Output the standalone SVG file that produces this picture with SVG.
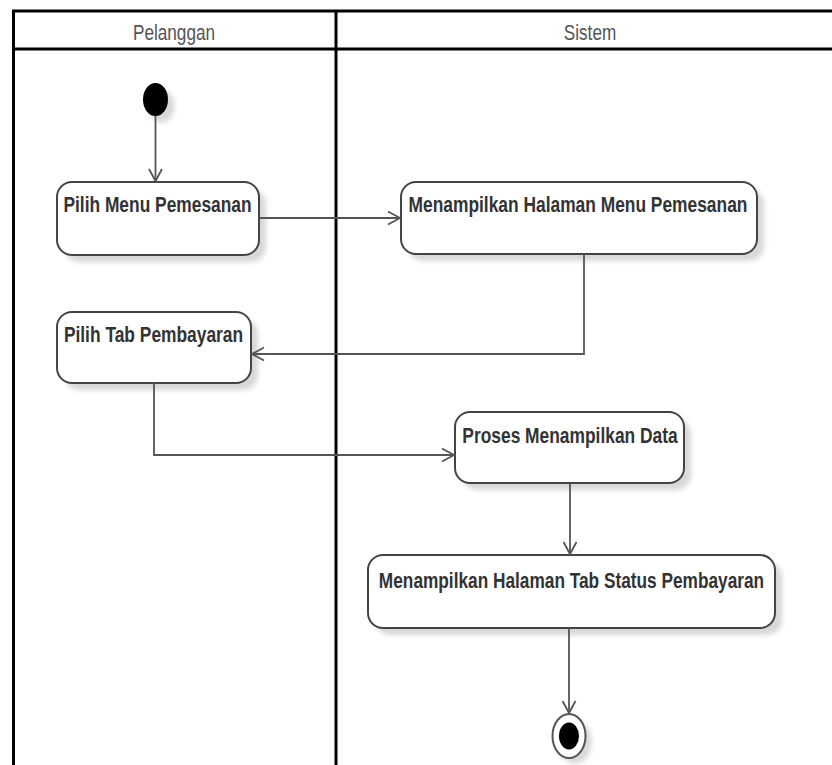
<svg xmlns="http://www.w3.org/2000/svg" width="832" height="765" viewBox="0 0 832 765">
  <style>
    .lane { stroke: #000; stroke-width: 3; fill: none; }
    .lane-title { font-family: "Liberation Sans", Arial, sans-serif; font-size: 22px; fill: #555; text-anchor: middle; }
    .act { fill: #fff; stroke: #444; stroke-width: 2; }
    .shadow { fill: #d8d8d8; filter: url(#soft); }
    .label { font-family: "Liberation Sans", Arial, sans-serif; font-weight: bold; font-size: 22px; fill: #333; text-anchor: middle; }
    .flow { fill: none; stroke: #555; stroke-width: 1.8; marker-end: url(#open); }
  </style>
  <defs>
    <filter id="soft" x="-20%" y="-20%" width="140%" height="140%">
      <feGaussianBlur stdDeviation="2.5"/>
    </filter>
    <marker id="open" markerUnits="userSpaceOnUse" markerWidth="16" markerHeight="16" viewBox="-14 -8 16 16" refX="0" refY="0" orient="auto">
      <path d="M-12,-6.5 L0,0 L-12,6.5" fill="none" stroke="#555" stroke-width="1.8"/>
    </marker>
  </defs>

  <rect width="832" height="765" fill="#fff"/>

  <!-- swimlanes; titles use a narrowed sans -->
  <g id="lanes">
    <line class="lane" x1="12" y1="11" x2="832" y2="11"/>
    <line class="lane" x1="12" y1="49" x2="832" y2="49"/>
    <line class="lane" x1="13.5" y1="10" x2="13.5" y2="765"/>
    <line class="lane" x1="336" y1="10" x2="336" y2="765"/>
    <text class="lane-title" transform="translate(174,40) scale(0.78,1)">Pelanggan</text>
    <text class="lane-title" transform="translate(590,40) scale(0.78,1)">Sistem</text>
  </g>

  <g id="start">
    <ellipse class="shadow" cx="162" cy="106" rx="12.5" ry="16.5"/>
    <ellipse cx="155.5" cy="99.5" rx="12.5" ry="16.5" fill="#000"/>
  </g>

  <g id="pilih-menu">
    <rect class="shadow" x="64" y="189" width="202" height="73" rx="15"/>
    <rect class="act" x="57" y="182" width="202" height="73" rx="15"/>
    <text class="label" transform="translate(157.5,212) scale(0.79,1)">Pilih Menu Pemesanan</text>
  </g>

  <g id="tampil-menu">
    <rect class="shadow" x="408" y="189" width="356" height="72" rx="15"/>
    <rect class="act" x="401" y="182" width="356" height="72" rx="15"/>
    <text class="label" transform="translate(578,212) scale(0.79,1)">Menampilkan Halaman Menu Pemesanan</text>
  </g>

  <g id="pilih-tab">
    <rect class="shadow" x="64" y="319" width="194" height="71" rx="15"/>
    <rect class="act" x="57" y="312" width="194" height="71" rx="15"/>
    <text class="label" transform="translate(153.5,342) scale(0.79,1)">Pilih Tab Pembayaran</text>
  </g>

  <g id="proses-data">
    <rect class="shadow" x="462" y="419" width="229" height="71" rx="15"/>
    <rect class="act" x="455" y="412" width="229" height="71" rx="15"/>
    <text class="label" transform="translate(570,443) scale(0.79,1)">Proses Menampilkan Data</text>
  </g>

  <g id="tampil-status">
    <rect class="shadow" x="375" y="562" width="407" height="73" rx="15"/>
    <rect class="act" x="368" y="555" width="407" height="73" rx="15"/>
    <text class="label" transform="translate(571.5,588) scale(0.785,1)">Menampilkan Halaman Tab Status Pembayaran</text>
  </g>

  <g id="end">
    <ellipse class="shadow" cx="575" cy="742" rx="16.5" ry="22"/>
    <ellipse cx="569" cy="736" rx="16.5" ry="22" fill="#fff" stroke="#555" stroke-width="2"/>
    <ellipse cx="569" cy="736" rx="10" ry="13.5" fill="#000"/>
  </g>

  <!-- control flows -->
  <g id="connectors">
    <polyline class="flow" points="155.5,116 155.5,181"/>
    <polyline class="flow" points="259,218 400,218"/>
    <polyline class="flow" points="584,254 584,354 252,354"/>
    <polyline class="flow" points="154,383 154,455 454,455"/>
    <polyline class="flow" points="570,483 570,554"/>
    <polyline class="flow" points="569,628 569,713"/>
  </g>
</svg>
